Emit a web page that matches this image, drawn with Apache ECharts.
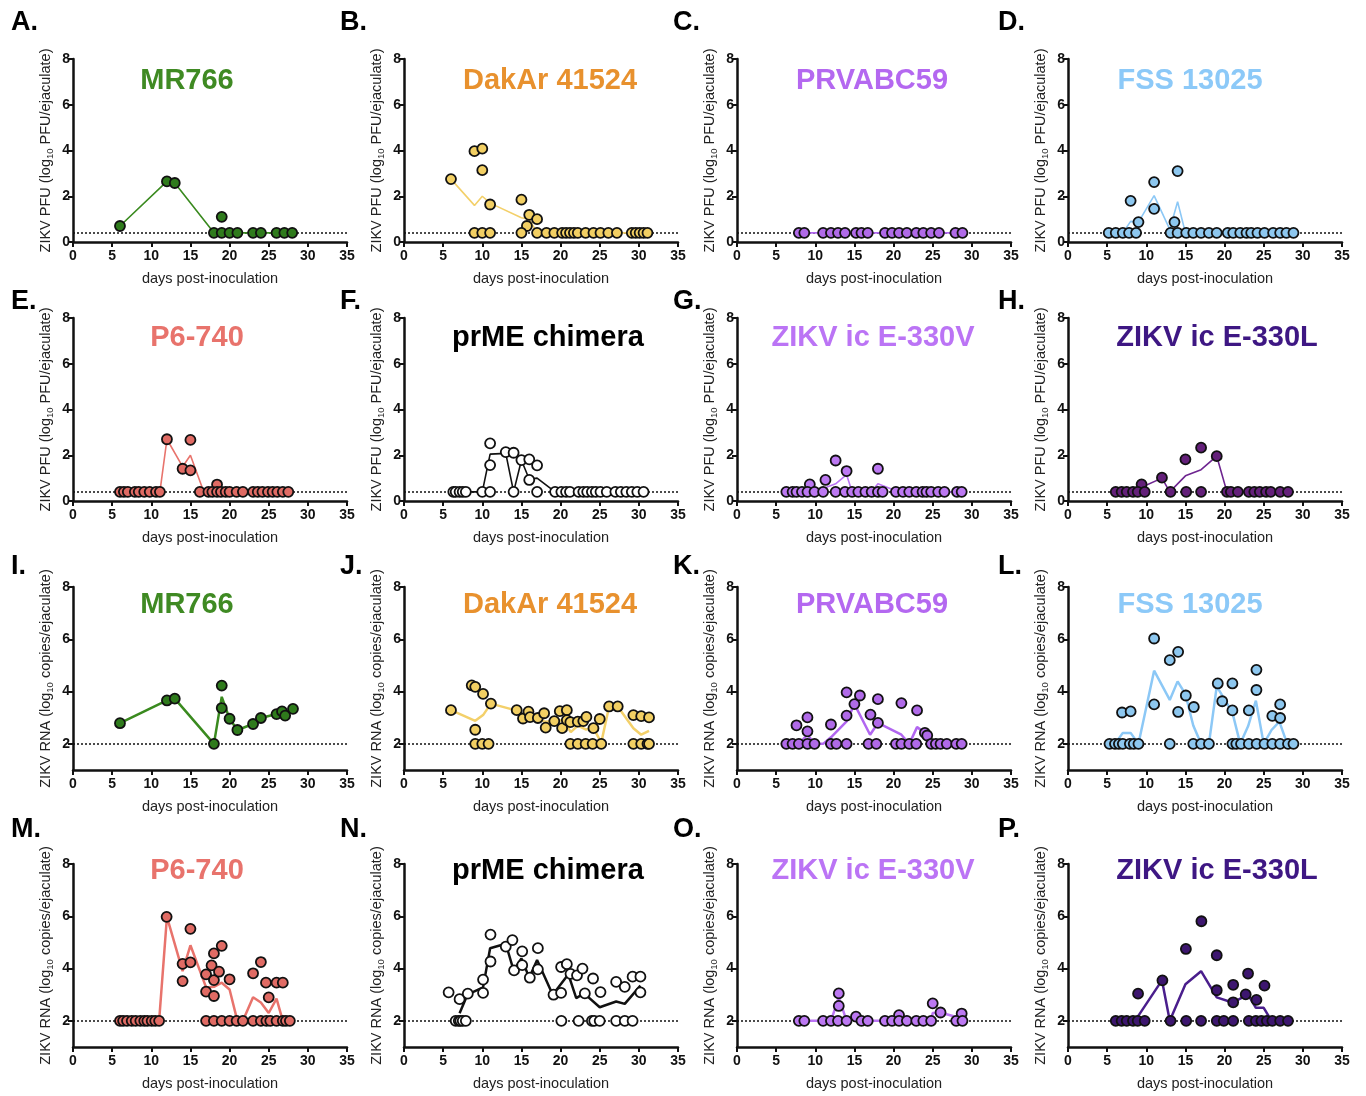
<!DOCTYPE html>
<html>
<head>
<meta charset="utf-8">
<script src="https://cdn.jsdelivr.net/npm/echarts@6/dist/echarts.min.js"></script>
<style>
  html, body { margin: 0; padding: 0; background: #fff; }
  #chart { width: 1366px; height: 1096px; }
</style>
</head>
<body>
<div id="chart"></div>
<script>
// ---- data: [day, log10 value] ----
// pts* = points above the detection limit, lod* = days of points sitting on the limit, mean* = the connecting line
const xTicks = [0, 5, 10, 15, 20, 25, 30, 35]
const pfuTicks = [0, 2, 4, 6, 8]
const rnaTicks = [2, 4, 6, 8]
const pfuLimit = 0.4
const rnaLimit = 2

const strainNames = ['MR766', 'DakAr 41524', 'PRVABC59', 'FSS 13025', 'P6-740', 'prME chimera', 'ZIKV ic E-330V', 'ZIKV ic E-330L']
const panelLetters = ['A.', 'B.', 'C.', 'D.', 'E.', 'F.', 'G.', 'H.', 'I.', 'J.', 'K.', 'L.', 'M.', 'N.', 'O.', 'P.']

// PFU
const ptsA = [[6, 0.7], [12, 2.65], [13, 2.58], [19, 1.1]]
const lodA = [18, 19, 20, 21, 23, 24, 26, 27, 28]
const meanA = [[6, 0.7], [12, 2.65], [13, 2.58], [18, 0.4], [19, 0.5], [20, 0.4], [28, 0.4]]

const ptsB = [[6, 2.75], [9, 3.97], [10, 4.08], [10, 3.14], [11, 1.64], [15, 1.85], [15.7, 0.7], [16, 1.19], [17, 1.0]]
const lodB = [9, 10, 11, 15, 17, 18.2, 19.2, 20.2, 20.7, 21.2, 21.7, 22.2, 23.2, 24.2, 25.1, 26.1, 27.2, 29.1, 29.6, 30.1, 30.6, 31.1]
const meanB = [[6, 2.75], [9, 1.6], [10, 2.0], [11, 1.7], [15, 1.06], [16, 1.0], [17, 0.4], [31.1, 0.4]]

const ptsC = []
const lodC = [7.9, 8.6, 11, 12, 12.9, 13.8, 15.2, 15.9, 16.7, 18.9, 19.8, 20.7, 21.7, 22.9, 23.8, 24.8, 25.8, 27.9, 28.8]
const meanC = [[7.9, 0.4], [28.8, 0.4]]

const ptsD = [[8, 1.8], [9, 0.87], [11, 2.62], [11, 1.45], [13.6, 0.87], [14, 3.1]]
const lodD = [5.2, 6.1, 7.0, 7.8, 8.7, 13.1, 14.0, 15.1, 16.0, 17.0, 18.0, 19.0, 20.4, 21.1, 22.0, 22.8, 23.4, 24.2, 25.1, 26.2, 27.1, 27.9, 28.8]
const meanD = [[5.2, 0.4], [7, 0.4], [8, 0.9], [9, 0.87], [11, 2.03], [13, 0.55], [14, 1.76], [15, 0.4], [28.8, 0.4]]

const ptsE = [[12, 2.7], [14, 1.41], [15, 2.67], [15, 1.34], [18.4, 0.72]]
const lodE = [6, 6.5, 7, 7.9, 8.4, 9.1, 9.8, 10.6, 11.1, 16.2, 17.3, 17.8, 18.4, 18.9, 19.5, 20, 20.9, 21.7, 23, 23.6, 24.2, 24.9, 25.5, 26.1, 26.8, 27.5]
const meanE = [[6, 0.4], [11.1, 0.4], [12, 2.7], [14, 1.5], [15, 2.0], [16.7, 0.4], [18, 0.4], [18.4, 0.55], [19, 0.4], [27.5, 0.4]]

const ptsF = [[11, 2.52], [11, 1.57], [13, 2.14], [14, 2.11], [15, 1.79], [16, 1.82], [16, 0.92], [17, 1.56]]
const lodF = [6.3, 6.6, 7.1, 7.5, 7.9, 10, 11, 14, 17, 19.3, 20.1, 20.7, 21.2, 22.3, 22.9, 23.4, 24, 24.5, 25.1, 25.9, 27, 27.7, 28.4, 29.1, 29.8, 30.6]
const meanF = [[6.3, 0.4], [10, 0.4], [11, 2.05], [13, 2.08], [14, 0.4], [15, 1.78], [16, 0.95], [17, 1.0], [19.3, 0.4], [30.6, 0.4]]

const ptsG = [[9.3, 0.73], [11.3, 0.92], [12.6, 1.77], [14, 1.31], [18, 1.41]]
const lodG = [6.3, 7.1, 7.6, 8.3, 9, 9.9, 11, 12.6, 13.8, 14.7, 15.5, 16.4, 17.2, 18, 18.6, 20.3, 21.2, 22, 22.9, 23.7, 24.2, 24.8, 25.7, 26.5, 28.1, 28.7]
const meanG = [[6.3, 0.4], [10, 0.4], [11, 0.55], [12.6, 0.75], [14, 1.15], [14.7, 0.4], [17.2, 0.4], [18, 0.75], [20.3, 0.45], [21.2, 0.4], [28.7, 0.4]]

const ptsH = [[9.4, 0.73], [12, 1.02], [15, 1.82], [17, 2.33], [19, 1.96]]
const lodH = [6.1, 6.85, 7.5, 8.3, 8.9, 9.8, 13.1, 15.1, 17, 20.3, 20.8, 21.7, 23.1, 23.8, 24.5, 25.3, 25.9, 27.1, 28.1]
const meanH = [[6.1, 0.4], [8.4, 0.4], [9.4, 0.6], [12, 1.0], [13, 0.4], [15, 1.1], [17, 1.37], [19, 1.96], [20.3, 0.4], [28.1, 0.4]]

// RNA
const ptsI = [[6, 2.79], [12, 3.66], [13, 3.73], [18, 2.0], [19, 4.23], [19, 3.37], [20, 2.96], [21, 2.53], [23, 2.76], [24, 2.99], [26, 3.14], [26.7, 3.24], [27.1, 3.08], [28.1, 3.34]]
const lodI = []
const meanI = [[6, 2.79], [12, 3.66], [13, 3.73], [18, 2.0], [19, 3.8], [20, 2.96], [21, 2.53], [23, 2.76], [24, 2.99], [26, 3.14], [27, 3.16], [28, 3.34]]

const ptsJ = [[6, 3.29], [8.65, 4.24], [9.1, 4.18], [10.1, 3.91], [11.1, 3.54], [9.1, 2.54], [14.4, 3.29], [15.2, 2.97], [15.9, 3.23], [16.1, 3.02], [17.1, 2.99], [17.9, 3.17], [18.1, 2.62], [19.2, 2.87], [19.9, 3.25], [20.2, 2.6], [20.8, 3.29], [20.8, 2.91], [21.25, 2.83], [22.2, 2.85], [22.9, 2.87], [23.3, 3.03], [24.2, 2.6], [25, 2.95], [26.2, 3.43], [27.3, 3.43], [29.3, 3.1], [30.3, 3.06], [31.3, 3.01]]
const lodJ = [9.1, 10, 10.8, 21.25, 22.2, 23.2, 24.1, 25.2, 29.3, 30.3, 31.1, 31.3]
const meanJ = [[6, 3.29], [9.1, 2.88], [10.1, 3.1], [11.1, 3.54], [14.4, 3.27], [15.2, 3.0], [16, 3.1], [17.1, 2.95], [18, 2.85], [19.2, 2.87], [20, 2.9], [20.8, 2.7], [21.3, 2.45], [22.2, 2.7], [23.2, 2.55], [24.2, 2.6], [25.2, 2.05], [26.2, 3.43], [27.3, 3.43], [29.3, 2.6], [30.3, 2.35], [31.3, 2.5]]

const ptsK = [[7.6, 2.71], [9, 3.01], [9, 2.48], [12, 2.74], [14, 3.97], [14, 3.08], [15, 3.52], [15.7, 3.85], [17.05, 3.12], [18, 3.71], [18, 2.8], [21, 3.56], [23, 3.28], [24, 2.42], [24.3, 2.32]]
const lodK = [6.3, 7.1, 7.9, 9, 9.9, 12, 12.7, 14, 16.8, 17.8, 20.3, 21, 22, 22.9, 24.8, 25.4, 26, 26.8, 28, 28.7]
const meanK = [[6.3, 2], [7.9, 2], [9, 2.35], [9.9, 2], [11, 2], [12, 2.25], [14, 2.86], [15, 3.52], [17, 2.35], [18, 2.8], [21, 2.35], [22, 2], [23, 2.64], [24, 2.42], [24.8, 2], [28.7, 2]]

const ptsL = [[6.9, 3.2], [8, 3.24], [11, 6.03], [11, 3.51], [13, 5.2], [14.07, 5.52], [14.07, 3.22], [15.05, 3.85], [16.07, 3.41], [19.13, 4.31], [19.7, 3.63], [21, 4.31], [21, 3.28], [23.1, 3.28], [24.07, 4.83], [24.07, 4.06], [26.1, 3.07], [27.1, 2.99], [27.1, 3.51]]
const lodL = [5.3, 6, 6.5, 7, 7.9, 8.4, 9, 13, 16, 17, 18, 21, 21.5, 22.1, 23.1, 24.1, 25.1, 26.1, 27.1, 28.1, 28.8]
const meanL = [[5.3, 2], [6, 2], [7, 2.42], [8, 2.42], [9, 2], [11, 4.8], [13, 3.68], [14, 4.39], [15, 3.9], [16, 2.7], [17, 2], [18, 2], [19, 4.2], [21, 3.2], [22, 2], [23, 2.67], [24, 3.65], [25, 2], [26, 2.53], [27, 2.85], [28, 2], [28.8, 2]]

const ptsM = [[11.96, 5.98], [14, 4.18], [14, 3.52], [15, 5.52], [15, 4.24], [17, 3.78], [17, 3.12], [17.7, 4.12], [18, 4.58], [18, 3.56], [18, 2.95], [18.65, 3.88], [19, 4.87], [20, 3.59], [23, 3.82], [24, 4.25], [24.65, 3.46], [25, 2.9], [26, 3.46], [26.8, 3.46]]
const lodM = [6, 6.4, 6.9, 7.5, 8, 8.6, 9.1, 9.5, 10.05, 10.5, 11, 17, 18, 19, 20, 20.9, 21.7, 23, 24, 24.7, 25.2, 26, 26.8, 27.2, 27.7]
const meanM = [[6, 2], [11, 2], [12, 5.98], [14, 3.9], [15, 4.89], [17, 3.28], [18, 3.3], [19, 3.46], [20, 3.2], [21, 2], [21.7, 2], [23, 2.9], [24, 2.7], [25, 2.3], [26, 2.85], [26.8, 2], [27.7, 2]]

const ptsN = [[5.7, 3.09], [7.1, 2.83], [8.15, 3.04], [10.1, 3.58], [10.1, 3.07], [11.05, 5.3], [11.05, 4.27], [13, 4.84], [13.85, 5.09], [14.06, 3.93], [15.1, 4.66], [15.1, 4.13], [16.07, 3.65], [17.1, 4.78], [17.1, 3.97], [19.1, 3.0], [20.07, 4.06], [20.07, 3.07], [20.8, 4.17], [21.27, 3.8], [22.1, 3.74], [22.8, 4.0], [23.1, 3.05], [24.15, 3.62], [25.1, 3.1], [27.1, 3.49], [28.2, 3.3], [29.2, 3.69], [30.2, 3.69], [30.2, 3.09]]
const lodN = [6.6, 7, 7.2, 7.5, 7.9, 20.1, 22.3, 24, 24.3, 25, 27.1, 28.2, 29.2]
const meanN = [[7.1, 2.29], [8.1, 3.0], [10.1, 3.28], [11, 4.78], [13, 4.95], [14, 3.93], [15, 4.39], [16, 3.65], [17, 4.33], [19, 3.0], [21, 3.78], [22, 2.87], [23, 3.05], [25, 2.52], [27.1, 2.74], [28.2, 2.65], [30.2, 3.35]]

const ptsO = [[13, 3.05], [13, 2.57], [15.2, 2.16], [20.7, 2.22], [25, 2.67], [26, 2.32], [28.7, 2.28]]
const lodO = [7.9, 8.6, 11, 12, 12.9, 14, 15.9, 16.7, 18.9, 19.8, 20.7, 21.7, 22.9, 23.8, 24.8, 28, 28.8]
const meanO = [[7.9, 2], [12, 2], [13, 2.9], [14, 2], [15.2, 2.1], [15.9, 2], [20, 2], [20.7, 2.1], [21.7, 2], [24.8, 2], [25, 2.3], [26, 2.32], [28, 2.15], [28.8, 2.15]]

const ptsP = [[8.95, 3.04], [12.06, 3.55], [15.06, 4.75], [17.04, 5.81], [19, 4.51], [19, 3.17], [21.1, 3.38], [21.1, 2.71], [23, 3.81], [22.7, 3.01], [24.07, 2.8], [25.1, 3.35]]
const lodP = [6.1, 6.85, 7.5, 8.3, 8.9, 9.8, 13.1, 15.1, 17, 19, 19.9, 21.1, 23.1, 24, 24.7, 25.4, 26.1, 27.1, 28.1]
const meanP = [[6.1, 2], [8.3, 2], [9, 2.2], [12, 3.55], [13, 2], [15, 3.4], [17, 3.9], [19, 2.9], [21, 2.7], [23, 3.0], [24, 2.5], [25, 2.5], [26, 2], [28.1, 2]]

const allPts = [ptsA, ptsB, ptsC, ptsD, ptsE, ptsF, ptsG, ptsH, ptsI, ptsJ, ptsK, ptsL, ptsM, ptsN, ptsO, ptsP]
const allLod = [lodA, lodB, lodC, lodD, lodE, lodF, lodG, lodH, lodI, lodJ, lodK, lodL, lodM, lodN, lodO, lodP]
const allMean = [meanA, meanB, meanC, meanD, meanE, meanF, meanG, meanH, meanI, meanJ, meanK, meanL, meanM, meanN, meanO, meanP]

// ---- styles ----
const titleColors = ['#3F8A23', '#E8912E', '#B468F0', '#8CC9F8', '#E8736C', '#000000', '#BB74F5', '#3E1783']
const dotColors = ['#2F7B1C', '#F2CF63', '#B06AE8', '#8DC7EF', '#E06B64', '#FFFFFF', '#BC78F2', '#64207A',
                   '#2F7B1C', '#F2CF63', '#B06AE8', '#8DC7EF', '#E06B64', '#FFFFFF', '#BC78F2', '#3D166F']
const lineColors = ['#3A8A1F', '#F3D06A', '#B166F0', '#8CC8F6', '#E8736C', '#111111', '#BB74F5', '#6E2590',
                    '#3A8A1F', '#F3D06A', '#B166F0', '#8CC8F6', '#E8736C', '#111111', '#BB74F5', '#4A1E8C']

const colLeft = [73, 404, 737, 1068]
const rowTop = [59, 318, 587, 864]
const gridW = 274
const gridH = 183
const titleX = [187, 550, 872, 1190, 197, 548, 873, 1217]
const titleY = [81, 338, 605, 871]
const letterX = [11, 340, 673, 998]
const letterY = [23, 302, 567, 830]

const font = "'Liberation Sans', Arial, Helvetica, sans-serif"
const narrow = "'Liberation Sans Narrow', 'Liberation Sans', Arial, sans-serif"

var grids = [], xAxes = [], yAxes = [], series = [], graphics = []

for (let i = 0; i < 16; i++) {
  const r = Math.floor(i / 4)
  const c = i % 4
  const isRna = i >= 8
  const limit = isRna ? rnaLimit : pfuLimit
  const lw = isRna ? 2.5 : 1.6

  grids.push({ left: colLeft[c], top: rowTop[r], width: gridW, height: gridH })

  xAxes.push({
    gridIndex: i,
    type: 'value',
    min: 0,
    max: 35,
    interval: 5,
    name: 'days post-inoculation',
    nameLocation: 'middle',
    nameGap: 29,
    nameTextStyle: { fontFamily: font, fontSize: 14.5, color: '#222' },
    axisLine: { onZero: false, lineStyle: { color: '#111', width: 2.5 } },
    axisTick: { length: 5, lineStyle: { color: '#111', width: 2 } },
    axisLabel: { fontFamily: narrow, fontWeight: 'bold', fontSize: 14, color: '#111', margin: 7,
      customValues: xTicks },
    splitLine: { show: false },
  })

  yAxes.push({
    gridIndex: i,
    type: 'value',
    min: isRna ? 1 : 0,
    max: 8,
    interval: isRna ? 1 : 2,
    name: isRna ? 'ZIKV RNA (log{s|10} copies/ejaculate)' : 'ZIKV PFU (log{s|10} PFU/ejaculate)',
    nameLocation: 'middle',
    nameGap: 18,
    nameTextStyle: {
      fontFamily: font, fontSize: 14.5, color: '#222', lineHeight: 18,
      rich: { s: { fontFamily: font, fontSize: 9.5, lineHeight: 9, verticalAlign: 'bottom', color: '#222' } },
    },
    axisLine: { show: true, lineStyle: { color: '#111', width: 2.5 } },
    axisTick: { show: true, length: 5, lineStyle: { color: '#111', width: 2 },
      customValues: isRna ? rnaTicks : pfuTicks },
    axisLabel: { fontFamily: narrow, fontWeight: 'bold', fontSize: 14, color: '#111', margin: 3,
      customValues: isRna ? rnaTicks : pfuTicks },
    splitLine: { show: false },
  })

  // mean line + detection limit
  series.push({
    type: 'line',
    xAxisIndex: i,
    yAxisIndex: i,
    data: allMean[i],
    showSymbol: false,
    symbol: 'none',
    lineStyle: { color: lineColors[i], width: lw },
    z: 2,
    silent: true,
    markLine: {
      silent: true,
      symbol: 'none',
      label: { show: false },
      lineStyle: { color: '#111', type: [2, 2], width: 1.5 },
      data: [{ yAxis: limit }],
      z: 1,
    },
  })

  // points
  const pts = allPts[i].concat(allLod[i].map(d => [d, limit]))
  series.push({
    type: 'scatter',
    xAxisIndex: i,
    yAxisIndex: i,
    data: pts,
    symbol: 'circle',
    symbolSize: 10,
    itemStyle: { color: dotColors[i], borderColor: '#111', borderWidth: 1.8, opacity: 1 },
    z: 3,
    silent: true,
  })

  graphics.push({
    type: 'text',
    x: titleX[i % 8],
    y: titleY[r],
    style: { text: strainNames[i % 8], fill: titleColors[i % 8], font: 'bold 29px ' + font,
      textAlign: 'center', textVerticalAlign: 'middle' },
  })
  graphics.push({
    type: 'text',
    x: letterX[c],
    y: letterY[r],
    style: { text: panelLetters[i], fill: '#000', font: 'bold 27px ' + font,
      textAlign: 'left', textVerticalAlign: 'middle' },
  })
}

var option = {
  animation: false,
  backgroundColor: '#fff',
  grid: grids,
  xAxis: xAxes,
  yAxis: yAxes,
  series: series,
  graphic: graphics,
}

var myChart = echarts.init(document.getElementById('chart'))
myChart.setOption(option)
window.addEventListener('resize', function() {
  myChart.resize()
})
</script>
</body>
</html>
